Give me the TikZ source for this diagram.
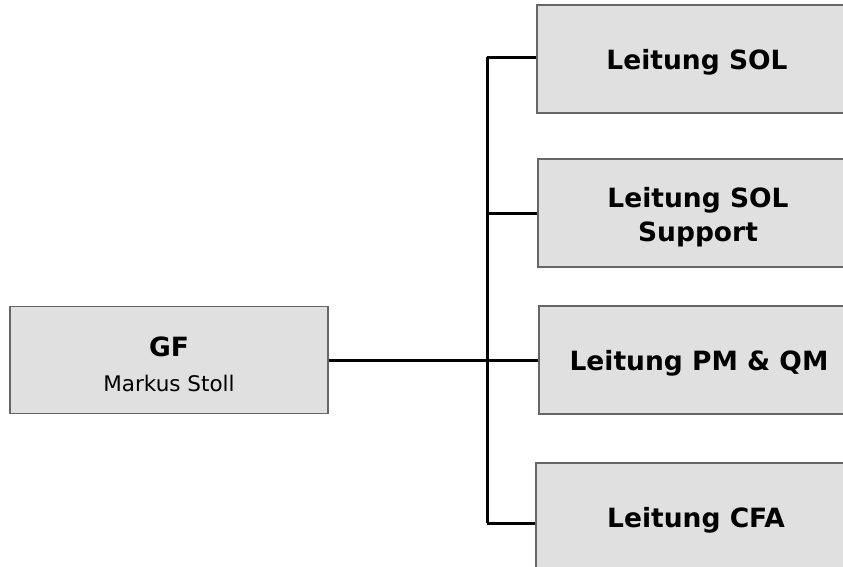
\documentclass[tikz,border=0pt]{standalone}
\usepackage{fontspec}
\setmainfont{DejaVu Sans}
\begin{document}
\begin{tikzpicture}[x=1pt,y=-1pt,
  box/.style={draw=black!60, line width=1.8pt, fill=black!12, inner sep=0pt,
    minimum width=320pt, minimum height=108pt, align=center,
    font=\fontsize{26.5}{34}\selectfont\bfseries},
  single/.style={text depth=-2pt},
  conn/.style={line width=3pt, black}]
\useasboundingbox (0,0) rectangle (843,566);
\clip (0,0) rectangle (843,566);
\node[box, minimum width=318pt, minimum height=107pt, text height=64pt] (gf) at (169,360)
  {GF\\[1pt]{\fontsize{21.5}{26}\selectfont\mdseries Markus Stoll}};
\node[box, single] (sol) at (697,59) {Leitung SOL};
\node[box, text height=62pt] (sup) at (698,213) {Leitung SOL\\Support};
\node[box, single] (pm) at (699,360) {Leitung PM \& QM};
\node[box, single] (cfa) at (696,517) {Leitung CFA};
\coordinate (t1) at (487,57);
\coordinate (t2) at (487,213);
\coordinate (t3) at (487,360);
\coordinate (t4) at (487,523);
\draw[conn] (t1) -- (t4);
\draw[conn] (t1) -- (t1 -| sol.west);
\draw[conn] (t2) -- (t2 -| sup.west);
\draw[conn] (gf.east) -- (pm.west);
\draw[conn] (t4) -- (t4 -| cfa.west);
\end{tikzpicture}
\end{document}
